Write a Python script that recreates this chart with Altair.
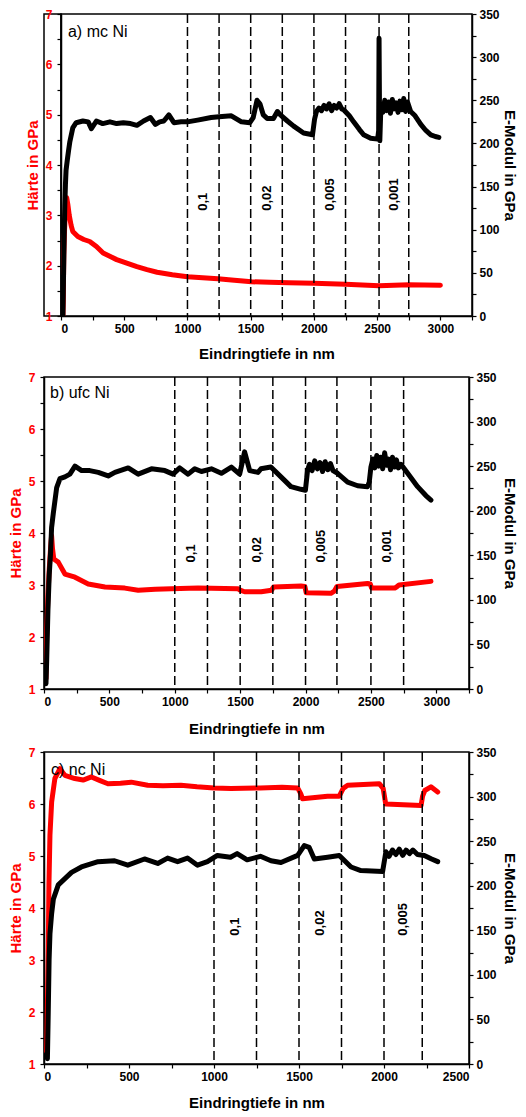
import altair as alt
import pandas as pd

FONT = "Liberation Sans"

# ---------------- Panel a) mc Ni ----------------
a_red_x = [15, 18, 22, 28, 35, 45, 55, 65, 80, 93, 133, 180, 227, 280, 333, 390, 440, 520, 600, 680, 760, 880,
           1000, 1120, 1240, 1370, 1507, 1650, 1800, 2000, 2250, 2515, 2750, 3000]
a_red_h = [1.0, 1.3, 2.2, 2.7, 3.1, 3.35, 3.2, 3.0, 2.8, 2.68, 2.58, 2.52, 2.48, 2.38, 2.25, 2.18, 2.12, 2.05, 1.98,
           1.92, 1.87, 1.82, 1.78, 1.76, 1.74, 1.71, 1.68, 1.67, 1.66, 1.65, 1.63, 1.60, 1.62, 1.61]

a_blk_x = [15, 20, 25, 30, 35, 40, 50, 60, 70, 93, 120, 173, 215, 240, 280, 330, 387, 440, 493, 550, 600, 653, 707,
           747, 780, 813, 853, 893, 950, 1000, 1080, 1187, 1250, 1347, 1427, 1493, 1520, 1550, 1573, 1600, 1630, 1680,
           1711, 1735, 1790, 1840, 1918, 1989, 2005, 2020, 2040, 2060, 2080, 2100, 2120, 2140, 2160, 2180, 2200, 2220,
           2235, 2280, 2314, 2360, 2393, 2449, 2504, 2512, 2515, 2518, 2521, 2530, 2545, 2560, 2575, 2590, 2605, 2620,
           2635, 2650, 2665, 2680, 2695, 2710, 2725, 2740, 2765, 2800, 2845, 2885, 2924, 2960, 2988]
a_blk_e = [0, 47, 93, 128, 152, 169, 181, 192, 202, 218, 224, 226, 225, 217, 226, 223, 225, 223, 224, 223, 221, 226,
           230, 222, 225, 226, 233, 224, 225, 225, 227, 230, 231, 232, 225, 224, 230, 250, 246, 233, 229, 229, 237, 233,
           226, 220, 212, 210, 228, 237, 241, 238, 244, 240, 246, 238, 244, 241, 246, 240, 239, 232, 225, 216, 210, 206,
           205, 215, 322, 250, 203, 245, 236, 250, 238, 248, 235, 251, 240, 247, 236, 249, 239, 252, 237, 248, 237, 232,
           222, 215, 210, 208, 207]

a_rules = [1000, 1250, 1500, 1750, 2000, 2250, 2515, 2750]
a_lab_x = [1125, 1625, 2125, 2635]
a_lab_t = ["0,1", "0,02", "0,005", "0,001"]
a_lab_e = [122, 122, 122, 122]

# ---------------- Panel b) ufc Ni ----------------
b_red_x = [15, 20, 30, 40, 50, 58, 65, 75, 109, 160, 237, 338, 466, 618, 720, 850, 974, 1178, 1483, 1500, 1534, 1661,
           1740, 1755, 1965, 1995, 2005, 2194, 2220, 2240, 2474, 2495, 2505, 2682, 2700, 2715, 2959]
b_red_h = [1.2, 2.0, 2.8, 3.3, 3.7, 3.95, 3.7, 3.5, 3.44, 3.21, 3.15, 3.02, 2.96, 2.94, 2.9, 2.92, 2.93, 2.94, 2.93,
           2.9, 2.87, 2.87, 2.9, 2.96, 2.98, 2.97, 2.85, 2.84, 2.88, 2.97, 3.03, 3.02, 2.94, 2.94, 2.97, 3.0, 3.07]

b_blk_x = [15, 20, 30, 40, 50, 58, 71, 97, 122, 160, 198, 237, 288, 350, 415, 491, 542, 644, 720, 822, 924, 987, 1038,
           1102, 1153, 1204, 1280, 1356, 1433, 1496, 1534, 1573, 1636, 1659, 1735, 1812, 1888, 1965, 1999, 2016, 2030,
           2050, 2070, 2090, 2110, 2130, 2150, 2170, 2190, 2210, 2245, 2322, 2398, 2474, 2487, 2500, 2515, 2530, 2545,
           2560, 2575, 2590, 2605, 2620, 2635, 2650, 2665, 2680, 2695, 2710, 2730, 2781, 2857, 2920, 2959]
b_blk_e = [6, 29, 88, 128, 152, 181, 197, 226, 236, 238, 241, 250, 245, 245, 243, 239, 243, 248, 241, 247, 245, 241,
           248, 241, 247, 244, 247, 242, 249, 241, 266, 245, 243, 247, 249, 238, 227, 224, 223, 246, 252, 245, 256, 247,
           254, 244, 255, 246, 253, 245, 242, 232, 228, 227, 232, 249, 258, 248, 262, 250, 260, 247, 265, 251, 258, 246,
           260, 249, 257, 248, 252, 242, 227, 217, 212]

b_rules = [1000, 1250, 1500, 1750, 2000, 2240, 2500, 2750]
b_lab_x = [1125, 1625, 2120, 2625]
b_lab_t = ["0,1", "0,02", "0,005", "0,001"]
b_lab_e = [142, 142, 142, 142]

# ---------------- Panel c) nc Ni ----------------
c_red_x = [16, 25, 29, 35, 45, 64, 94, 123, 181, 230, 279, 330, 376, 450, 513, 610, 700, 805, 900, 1000, 1100, 1273,
           1400, 1492, 1510, 1521, 1668, 1737, 1760, 1786, 1972, 1995, 2010, 2218, 2227, 2240, 2276, 2316]
c_red_h = [1.24, 3.16, 4.44, 5.4, 6.04, 6.49, 6.68, 6.55, 6.49, 6.46, 6.52, 6.45, 6.39, 6.40, 6.42, 6.36, 6.35, 6.36,
           6.33, 6.31, 6.30, 6.31, 6.32, 6.31, 6.2, 6.10, 6.15, 6.15, 6.3, 6.36, 6.39, 6.3, 6.0, 5.97, 6.15, 6.26, 6.33,
           6.23]

c_blk_x = [20, 25, 30, 35, 45, 55, 84, 123, 162, 220, 318, 415, 493, 591, 669, 727, 786, 844, 903, 961, 1020, 1097,
           1136, 1195, 1273, 1335, 1394, 1492, 1531, 1560, 1590, 1668, 1737, 1806, 1864, 1992, 2011, 2030, 2050, 2070,
           2090, 2110, 2130, 2150, 2170, 2197, 2237, 2280, 2316]
c_blk_e = [6, 58, 117, 146, 169, 185, 201, 208, 215, 221, 227, 228, 223, 230, 225, 231, 227, 231, 223, 227, 234, 232,
           236, 229, 233, 228, 226, 234, 245, 243, 230, 232, 234, 221, 217, 216, 238, 233, 240, 235, 241, 234, 240, 236,
           240, 235, 234, 230, 227]

c_rules = [1000, 1250, 1500, 1750, 2000, 2225]
c_lab_x = [1125, 1625, 2112]
c_lab_t = ["0,1", "0,02", "0,005"]
c_lab_e = [144, 144, 144]

titles = ["a) mc Ni", "b) ufc Ni", "c) nc Ni"]
title_x = [55, 46, 41]
title_e = [329, 332, 330]


def panel(xmax, width, height, xtitle_y, rtitle_pad, rx, rh, bx, be, rules, lx, lt, le, name, nx, ne):
    xticks = list(range(0, xmax + 1, 250))
    x_enc = alt.X(
        "x:Q",
        scale=alt.Scale(domain=[0, xmax], nice=False, zero=False),
        axis=alt.Axis(values=xticks,
                      labelExpr="datum.value % 500 == 0 ? format(datum.value, 'd') : ''",
                      labelPadding=3, titleY=xtitle_y, titleBaseline="top",
                      title="Eindringtiefe in nm"),
    )
    h_enc = alt.Y(
        "H:Q",
        scale=alt.Scale(domain=[1, 7], nice=False, zero=False),
        axis=alt.Axis(orient="left", values=[1 + 0.5 * i for i in range(13)],
                      labelExpr="datum.value % 1 == 0 ? format(datum.value, 'd') : ''",
                      labelPadding=5, titlePadding=5,
                      title="Härte in GPa", titleColor="#ff0000", labelColor="#ff0000"),
    )
    e_enc = alt.Y(
        "E:Q",
        scale=alt.Scale(domain=[0, 350], nice=False, zero=False),
        axis=alt.Axis(orient="right", values=list(range(0, 351, 25)),
                      labelExpr="datum.value % 50 == 0 ? format(datum.value, 'd') : ''",
                      labelPadding=3, titlePadding=rtitle_pad,
                      title="E-Modul in GPa"),
    )
    red = alt.Chart(pd.DataFrame({"x": rx, "H": rh})).mark_line(
        color="#ff0000", strokeWidth=5, strokeJoin="round", strokeCap="round", clip=True
    ).encode(x=x_enc, y=h_enc)
    black = alt.Chart(pd.DataFrame({"x": bx, "E": be})).mark_line(
        color="black", strokeWidth=5, strokeJoin="round", strokeCap="round", clip=True
    ).encode(x=x_enc, y=e_enc)
    rl = alt.Chart(pd.DataFrame({"x": rules})).mark_rule(
        color="black", strokeWidth=1.5, strokeDash=[9, 4]
    ).encode(x=x_enc)
    txt = alt.Chart(pd.DataFrame({"x": lx, "E": le, "t": lt})).mark_text(
        angle=270, align="left", baseline="middle", fontSize=13, fontWeight="bold", font=FONT, color="black"
    ).encode(x=x_enc, y=e_enc, text="t:N")
    nm = alt.Chart(pd.DataFrame({"x": [nx], "E": [ne], "t": [name]})).mark_text(
        align="left", baseline="middle", fontSize=16, font=FONT, color="black"
    ).encode(x=x_enc, y=e_enc, text="t:N")
    inner = alt.layer(black, rl, txt, nm)
    return alt.layer(red, inner).resolve_scale(y="independent").properties(width=width, height=height)


pa = panel(3250, 411, 302, 30, 2, a_red_x, a_red_h, a_blk_x, a_blk_e, a_rules, a_lab_x, a_lab_t, a_lab_e,
           titles[0], title_x[0], title_e[0])
pb = panel(3250, 425, 312, 32, 5, b_red_x, b_red_h, b_blk_x, b_blk_e, b_rules, b_lab_x, b_lab_t, b_lab_e,
           titles[1], title_x[1], title_e[1])
pc = panel(2500, 425, 312, 31, 5, c_red_x, c_red_h, c_blk_x, c_blk_e, c_rules, c_lab_x, c_lab_t, c_lab_e,
           titles[2], title_x[2], title_e[2])

spacer = alt.Chart(pd.DataFrame({"s": [0]})).mark_point(opacity=0).encode(
    x=alt.value(0), y=alt.value(0)
).properties(width=17, height=302)

row_a = alt.hconcat(spacer, pa, spacing=0, bounds="flush")

chart = alt.vconcat(row_a, pb, pc, spacing=8).properties(
    padding={"top": 7, "left": 7, "right": 0, "bottom": 0}
).configure_view(
    stroke="black", strokeWidth=1.5
).configure_axis(
    grid=False,
    labelFont=FONT, labelFontSize=12, labelFontWeight="bold", labelColor="black",
    titleFont=FONT, titleFontSize=15, titleFontWeight="bold", titleColor="black",
    domainColor="black", domainWidth=1.5, tickColor="black", tickWidth=1.2, tickSize=4,
)

chart.save("out.html", embed_options={"renderer": "svg", "actions": False})
